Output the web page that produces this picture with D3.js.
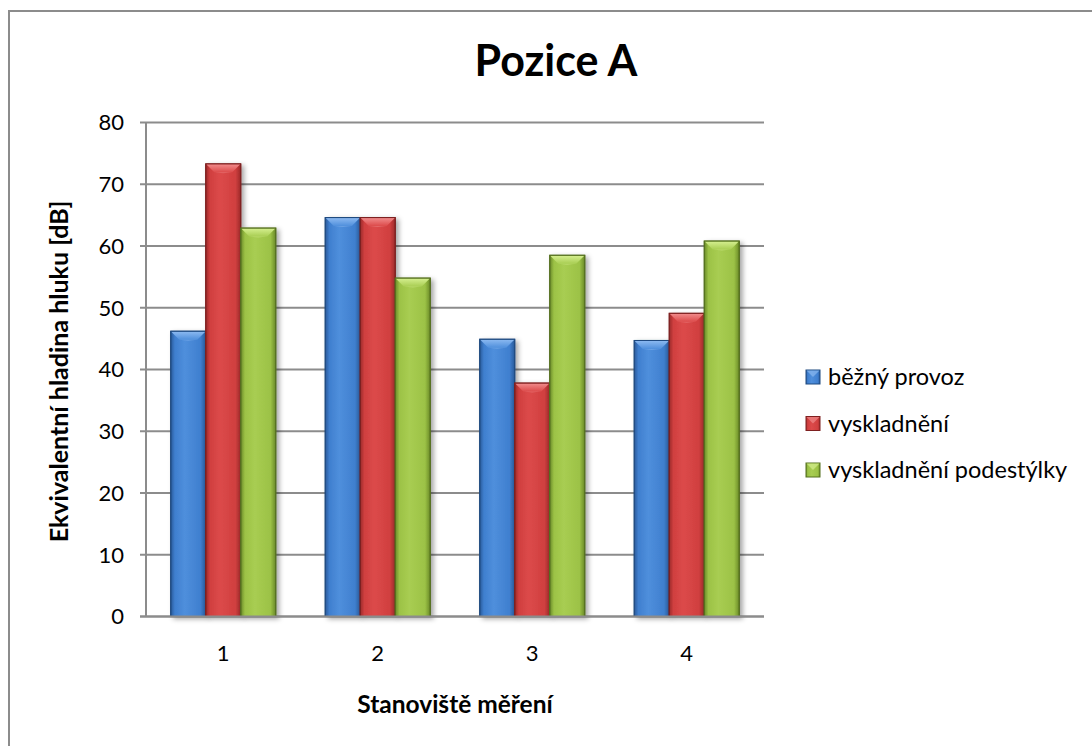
<!DOCTYPE html>
<html>
<head>
<meta charset="utf-8">
<script src="https://cdn.jsdelivr.net/npm/d3@7"></script>
<style>
  html, body { margin: 0; padding: 0; background: #fff; }
  svg { display: block; }
  text { font-family: Lato, "Open Sans", sans-serif; fill: #000; }
</style>
</head>
<body>
<svg id="chart" width="1092" height="746"></svg>
<script>
const categories = ["1", "2", "3", "4"];
const seriesNames = ["běžný provoz", "vyskladnění", "vyskladnění podestýlky"];
const valuesBezny = [46.2, 64.6, 44.9, 44.7];
const valuesVyskladneni = [73.3, 64.6, 37.8, 49.1];
const valuesPodestylky = [62.9, 54.8, 58.5, 60.8];
const yTicks = [0, 10, 20, 30, 40, 50, 60, 70, 80];
const title = "Pozice A";
const yTitle = "Ekvivalentní hladina hluku [dB]";
const xTitle = "Stanoviště měření";

const seriesValues = [valuesBezny, valuesVyskladneni, valuesPodestylky];
const palette = [
  { edge: "#2a5a9a", mid: "#3f7fcf", light: "#4f8fdc", top: "#8ab8f0", dark: "#1f4a80" },
  { edge: "#9c2a2a", mid: "#d03f3f", light: "#dc4a4a", top: "#f08a8a", dark: "#7e2020" },
  { edge: "#6a8a28", mid: "#9cc246", light: "#a8cd52", top: "#d4ee8e", dark: "#55701f" }
];

const svg = d3.select("#chart");
const defs = svg.append("defs");

// frame
svg.append("rect")
  .attr("x", 9).attr("y", 11).attr("width", 1100).attr("height", 760)
  .attr("fill", "#fff").attr("stroke", "#8c8c8c").attr("stroke-width", 2);

const plot = { left: 146, right: 764, top: 122.5, bottom: 616.5 };

const x = d3.scaleBand().domain(categories)
  .range([plot.left, plot.right]).paddingInner(0.32).paddingOuter(0.16);
const xs = d3.scaleBand().domain(d3.range(seriesNames.length))
  .range([0, x.bandwidth()]).padding(0);
const y = d3.scaleLinear().domain([0, 80]).range([plot.bottom, plot.top]);

// gradients
palette.forEach((p, i) => {
  const g = defs.append("linearGradient").attr("id", "bar" + i)
    .attr("x1", "0").attr("x2", "1").attr("y1", "0").attr("y2", "0");
  g.append("stop").attr("offset", "0").attr("stop-color", p.edge);
  g.append("stop").attr("offset", "0.12").attr("stop-color", p.mid);
  g.append("stop").attr("offset", "0.4").attr("stop-color", p.light);
  g.append("stop").attr("offset", "0.85").attr("stop-color", p.mid);
  g.append("stop").attr("offset", "1").attr("stop-color", p.edge);
  const t = defs.append("linearGradient").attr("id", "top" + i)
    .attr("x1", "0").attr("x2", "0").attr("y1", "0").attr("y2", "1");
  t.append("stop").attr("offset", "0").attr("stop-color", p.top);
  t.append("stop").attr("offset", "1").attr("stop-color", p.light);
});
const sh = defs.append("filter").attr("id", "shadow")
  .attr("x", "-20%").attr("y", "-5%").attr("width", "150%").attr("height", "115%");
sh.append("feDropShadow").attr("dx", 3).attr("dy", 2).attr("stdDeviation", 2.5)
  .attr("flood-color", "#000").attr("flood-opacity", 0.35);

// gridlines + ticks
const grid = svg.append("g");
grid.selectAll("line").data(yTicks).join("line")
  .attr("x1", plot.left - 6).attr("x2", plot.right)
  .attr("y1", d => y(d)).attr("y2", d => y(d))
  .attr("stroke", "#8c8c8c").attr("stroke-width", 2);
svg.append("line")
  .attr("x1", plot.left).attr("x2", plot.left)
  .attr("y1", plot.top).attr("y2", plot.bottom)
  .attr("stroke", "#8c8c8c").attr("stroke-width", 2);

// y tick labels
svg.append("g").selectAll("text").data(yTicks).join("text")
  .attr("x", plot.left - 22).attr("y", d => y(d))
  .attr("dy", "0.36em").attr("text-anchor", "end")
  .attr("font-size", 22).text(d => d);

// bars
const bars = [];
categories.forEach((c, ci) => {
  seriesValues.forEach((vals, si) => {
    bars.push({ c, si, v: vals[ci] });
  });
});
const bevel = 8;
const bg = svg.append("g");
const bar = bg.selectAll("g.bar").data(bars).join("g").attr("class", "bar");
bar.append("rect")
  .attr("x", d => x(d.c) + xs(d.si))
  .attr("y", d => y(d.v))
  .attr("width", xs.bandwidth())
  .attr("height", d => y(0) - y(d.v))
  .attr("fill", d => `url(#bar${d.si})`)
  .attr("stroke", d => palette[d.si].dark).attr("stroke-width", 1)
  .attr("filter", "url(#shadow)");
bar.append("path")
  .attr("d", d => {
    const x0 = x(d.c) + xs(d.si) + 0.5, x1 = x0 + xs.bandwidth() - 1, t = y(d.v) + 0.5;
    return `M${x0},${t}L${x1},${t}L${x1 - bevel},${t + bevel}L${x0 + bevel},${t + bevel}Z`;
  })
  .attr("fill", d => `url(#top${d.si})`);
bar.append("path")
  .attr("d", d => {
    const x0 = x(d.c) + xs(d.si) + 0.5, x1 = x0 + xs.bandwidth() - 1, t = y(d.v) + 0.5;
    const m = (x0 + x1) / 2;
    return `M${x0 + bevel},${t + bevel}L${x1 - bevel},${t + bevel}L${m},${t + bevel + 1}Z`;
  })
  .attr("fill", d => palette[d.si].top).attr("opacity", 0.5);
bar.append("rect")
  .attr("x", d => x(d.c) + xs(d.si))
  .attr("y", d => y(d.v))
  .attr("width", xs.bandwidth())
  .attr("height", d => y(0) - y(d.v))
  .attr("fill", "none")
  .attr("stroke", d => palette[d.si].dark).attr("stroke-width", 1);

// baseline
svg.append("line")
  .attr("x1", plot.left - 6).attr("x2", plot.right)
  .attr("y1", y(0)).attr("y2", y(0))
  .attr("stroke", "#8c8c8c").attr("stroke-width", 2);

// x tick labels
svg.append("g").selectAll("text").data(categories).join("text")
  .attr("x", d => x(d) + x.bandwidth() / 2).attr("y", 661)
  .attr("text-anchor", "middle").attr("font-size", 22).text(d => d);

// titles
svg.append("text").attr("x", 556).attr("y", 76)
  .attr("text-anchor", "middle").attr("font-size", 43).attr("font-weight", "bold")
  .text(title);
svg.append("text").attr("x", (plot.left + plot.right) / 2).attr("y", 713)
  .attr("text-anchor", "middle").attr("font-size", 24.5).attr("font-weight", "bold")
  .text(xTitle);
svg.append("text")
  .attr("transform", `translate(68,${(plot.top + plot.bottom) / 2 + 2}) rotate(-90)`)
  .attr("text-anchor", "middle").attr("font-size", 25).attr("font-weight", "bold")
  .text(yTitle);

// legend
const legend = svg.append("g");
const lg = legend.selectAll("g").data(seriesNames).join("g")
  .attr("transform", (d, i) => `translate(806,${377 + i * 46.5})`);
lg.append("rect").attr("x", 0).attr("y", -7).attr("width", 14).attr("height", 14)
  .attr("fill", (d, i) => `url(#bar${i})`)
  .attr("stroke", (d, i) => palette[i].dark).attr("stroke-width", 1);
lg.append("path").attr("d", "M0.5,-6.5L13.5,-6.5L7,0Z")
  .attr("fill", (d, i) => palette[i].top).attr("opacity", 0.7);
lg.append("text").attr("x", 22).attr("y", 0).attr("dy", "0.35em")
  .attr("font-size", 23.5).text(d => d);
</script>
</body>
</html>
